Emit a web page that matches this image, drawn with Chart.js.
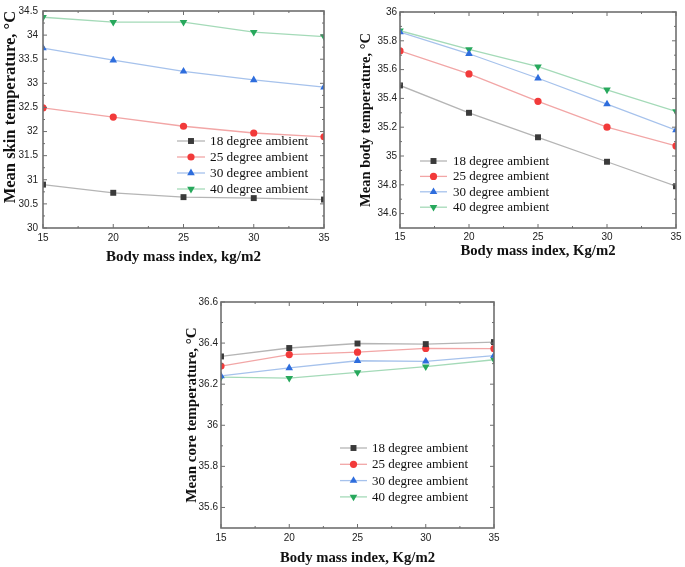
<!DOCTYPE html>
<html><head><meta charset="utf-8">
<script src="https://cdn.jsdelivr.net/npm/chart.js@4/dist/chart.umd.min.js"></script>
<style>
html,body{margin:0;padding:0;background:#fff;}
body{width:685px;height:567px;position:relative;overflow:hidden;}
canvas{position:absolute;}
</style></head><body>
<canvas id="c1" width="340" height="275" style="left:0px;top:0px"></canvas>
<canvas id="c2" width="340" height="275" style="left:345px;top:0px"></canvas>
<canvas id="c3" width="340" height="282" style="left:170px;top:285px"></canvas>
<script>
// ---- data ----
const bmi = [15, 20, 25, 30, 35];
const seriesNames = ['18 degree ambient', '25 degree ambient', '30 degree ambient', '40 degree ambient'];

// Mean skin temperature
const skin18 = [30.90, 30.73, 30.64, 30.62, 30.59];
const skin25 = [32.49, 32.30, 32.11, 31.97, 31.89];
const skin30 = [33.73, 33.48, 33.25, 33.07, 32.92];
const skin40 = [34.37, 34.27, 34.27, 34.06, 33.97];

// Mean body temperature
const body18 = [35.49, 35.30, 35.13, 34.96, 34.79];
const body25 = [35.73, 35.57, 35.38, 35.20, 35.07];
const body30 = [35.86, 35.71, 35.54, 35.36, 35.18];
const body40 = [35.87, 35.74, 35.62, 35.46, 35.31];

// Mean core temperature
const core18 = [36.335, 36.376, 36.398, 36.395, 36.405];
const core25 = [36.288, 36.344, 36.356, 36.374, 36.373];
const core30 = [36.240, 36.279, 36.314, 36.311, 36.339];
const core40 = [36.234, 36.229, 36.257, 36.285, 36.319];

// tick labels
const xTicks = [15, 20, 25, 30, 35];
const skinTicks = [30, 30.5, 31, 31.5, 32, 32.5, 33, 33.5, 34, 34.5];
const bodyTicks = [34.6, 34.8, 35, 35.2, 35.4, 35.6, 35.8, 36];
const coreTicks = [35.6, 35.8, 36, 36.2, 36.4, 36.6];

// ---- styles ----
const styles = [
  {marker: '#3a3a3a', line: '#b5b5b5', shape: 'rect', r: 4.2, rot: 0},
  {marker: '#f23a3a', line: '#f2a6a6', shape: 'circle', r: 3.6, rot: 0},
  {marker: '#2e6ddd', line: '#a6c2ec', shape: 'triangle', r: 4.4, rot: 0},
  {marker: '#27a85c', line: '#a4dab8', shape: 'triangle', r: 4.4, rot: 180},
];

function drawMarker(ctx, st, x, y) {
  ctx.save();
  ctx.fillStyle = st.marker;
  ctx.beginPath();
  if (st.shape === 'rect') {
    const s = st.r * Math.SQRT1_2;
    ctx.rect(x - s, y - s, 2 * s, 2 * s);
  } else if (st.shape === 'circle') {
    ctx.arc(x, y, st.r, 0, Math.PI * 2);
  } else {
    let a = st.rot * Math.PI / 180;
    for (let k = 0; k < 3; k++) {
      const px = x + Math.sin(a) * st.r, py = y - Math.cos(a) * st.r;
      if (k === 0) ctx.moveTo(px, py); else ctx.lineTo(px, py);
      a += 2 * Math.PI / 3;
    }
    ctx.closePath();
  }
  ctx.fill();
  ctx.restore();
}

const framePlugin = {
  id: 'originFrame',
  afterDraw(chart, args, opts) {
    const {ctx, chartArea: a, scales} = chart;
    const xs = scales.x, ys = scales.y;
    ctx.save();
    ctx.strokeStyle = '#6e6e6e';
    ctx.lineWidth = 1;
    const tick = (p, len, vertical) => {
      ctx.beginPath();
      if (vertical) {
        ctx.moveTo(p, a.bottom); ctx.lineTo(p, a.bottom - len);
        ctx.moveTo(p, a.top); ctx.lineTo(p, a.top + len);
      } else {
        ctx.moveTo(a.left, p); ctx.lineTo(a.left + len, p);
        ctx.moveTo(a.right, p); ctx.lineTo(a.right - len, p);
      }
      ctx.stroke();
    };
    const xt = opts.xTicks, yt = opts.yTicks;
    xt.forEach(v => tick(xs.getPixelForValue(v), 4, true));
    for (let i = 0; i < xt.length - 1; i++) tick(xs.getPixelForValue((xt[i] + xt[i + 1]) / 2), 2, true);
    yt.forEach(v => tick(ys.getPixelForValue(v), 4, false));
    const step = yt[1] - yt[0];
    for (let v = yt[0] - step / 2; v < yt[yt.length - 1] + 1e-9; v += step) {
      if (v > ys.min + 1e-9 && v < ys.max - 1e-9) tick(ys.getPixelForValue(v), 2, false);
    }
    ctx.strokeStyle = '#707070';
    ctx.lineWidth = 1.6;
    ctx.strokeRect(a.left, a.top, a.right - a.left, a.bottom - a.top);
    // legend
    const lg = opts.legend;
    ctx.font = lg.size + 'px "Liberation Serif"';
    ctx.textBaseline = 'middle';
    ctx.textAlign = 'left';
    seriesNames.forEach((name, i) => {
      const y = lg.y + i * lg.dy;
      const st = styles[i];
      ctx.strokeStyle = st.line;
      ctx.lineWidth = 1.3;
      ctx.beginPath(); ctx.moveTo(lg.x0, y); ctx.lineTo(lg.x1, y); ctx.stroke();
      drawMarker(ctx, st, (lg.x0 + lg.x1) / 2, y);
      ctx.fillStyle = '#111';
      ctx.fillText(name, lg.tx, y + 0.5);
    });
    ctx.restore();
  }
};

function makeChart(id, seriesVals, yMin, yMax, yTicks, c) {
  const datasets = seriesVals.map((vals, i) => ({
    label: seriesNames[i],
    data: bmi.map((x, j) => ({x: x, y: vals[j]})),
    borderColor: styles[i].line,
    backgroundColor: styles[i].marker,
    pointBackgroundColor: styles[i].marker,
    pointBorderColor: styles[i].marker,
    pointBorderWidth: 0,
    pointStyle: styles[i].shape,
    pointRadius: styles[i].r,
    pointRotation: styles[i].rot,
    borderWidth: 1.3,
    tension: 0,
    fill: false
  }));
  return new Chart(document.getElementById(id), {
    type: 'line',
    data: {datasets},
    plugins: [framePlugin],
    options: {
      responsive: false,
      animation: false,
      devicePixelRatio: 1,
      layout: {padding: {top: c.padTop, right: c.padRight, left: 0, bottom: 0}},
      plugins: {
        legend: {display: false},
        tooltip: {enabled: false},
        originFrame: {xTicks: xTicks, yTicks: yTicks, legend: c.legend}
      },
      scales: {
        x: {
          type: 'linear', min: 15, max: 35,
          afterBuildTicks: s => { s.ticks = xTicks.map(v => ({value: v})); },
          afterFit: s => { s.height = c.xAxisH; },
          grid: {display: false, drawTicks: false},
          border: {display: false},
          ticks: {padding: c.xTickPad, autoSkip: false, maxRotation: 0,
                  font: {family: 'Liberation Sans', size: 10}, color: '#222',
                  callback: v => String(v)},
          title: {display: true, text: c.xTitle, color: '#111',
                  font: {family: 'Liberation Serif', size: c.xTitleSize, weight: 'bold'},
                  padding: {top: 0, bottom: c.xTitlePad}}
        },
        y: {
          type: 'linear', min: yMin, max: yMax,
          afterBuildTicks: s => { s.ticks = yTicks.map(v => ({value: v})); },
          afterFit: s => { s.width = c.yAxisW; },
          grid: {display: false, drawTicks: false},
          border: {display: false},
          ticks: {padding: c.yTickPad, autoSkip: false,
                  font: {family: 'Liberation Sans', size: 10}, color: '#222',
                  callback: v => String(v)},
          title: {display: true, text: c.yTitle, color: '#111',
                  font: {family: 'Liberation Serif', size: c.yTitleSize, weight: 'bold'},
                  padding: {top: c.yTitlePad, bottom: 0}}
        }
      }
    }
  });
}

makeChart('c1', [skin18, skin25, skin30, skin40], 30, 34.5, skinTicks, {
  padTop: 6, padRight: 16, yAxisW: 43, xAxisH: 47,
  xTickPad: 4, yTickPad: 5,
  xTitle: 'Body mass index, kg/m2', xTitleSize: 15, xTitlePad: 9,
  yTitle: '\u2002\u2002\u2002Mean skin temperature, °C', yTitleSize: 16.5, yTitlePad: 1,
  legend: {x0: 177, x1: 205, tx: 210, y: 141, dy: 16, size: 13.3}
});

makeChart('c2', [body18, body25, body30, body40], 34.5, 36, bodyTicks, {
  padTop: 12, padRight: 9, yAxisW: 55, xAxisH: 47,
  xTickPad: 3, yTickPad: 3,
  xTitle: 'Body mass index, Kg/m2', xTitleSize: 14.7, xTitlePad: 15,
  yTitle: 'Mean body temperature, °C', yTitleSize: 14.5, yTitlePad: 13,
  legend: {x0: 75, x1: 102, tx: 108, y: 161, dy: 15.4, size: 13}
});

makeChart('c3', [core18, core25, core30, core40], 35.5, 36.6, coreTicks, {
  padTop: 17, padRight: 16, yAxisW: 51, xAxisH: 39,
  xTickPad: 4, yTickPad: 3,
  xTitle: 'Body mass index, Kg/m2', xTitleSize: 14.7, xTitlePad: 0,
  yTitle: 'Mean core temperature, °C', yTitleSize: 15, yTitlePad: 13,
  legend: {x0: 170, x1: 197, tx: 202, y: 163, dy: 16.3, size: 13}
});
</script>
</body></html>
